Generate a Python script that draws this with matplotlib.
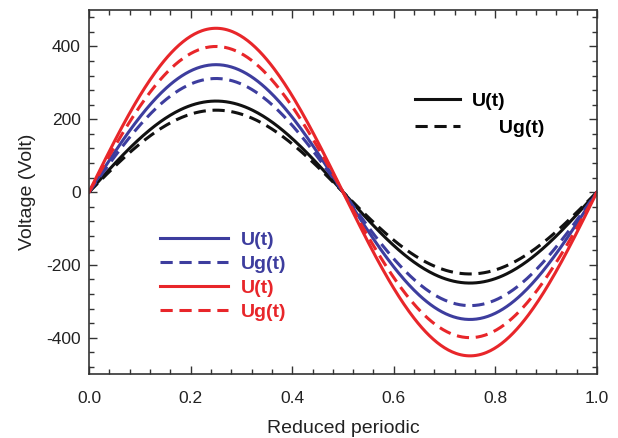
import numpy as np
import matplotlib.pyplot as plt
from matplotlib.lines import Line2D
from matplotlib.ticker import MultipleLocator

plt.rcParams['font.family'] = ['Liberation Sans', 'DejaVu Sans']
plt.rcParams['axes.unicode_minus'] = False

# amplitudes read from the peaks (Volt)
phase = np.linspace(0, 1, 401)
amp_black = [250, 225]   # U(t), Ug(t)
amp_blue = [350, 312]
amp_red = [450, 400]

black = '#111111'
blue = '#3d3d9e'
red = '#e8262a'

fig = plt.figure(figsize=(6.18, 4.38), dpi=100)
ax = fig.add_axes([0.144, 0.146, 0.822, 0.831])

dash = (0, (4, 2.2))
for amps, col in [(amp_black, black), (amp_blue, blue), (amp_red, red)]:
    ax.plot(phase, amps[0] * np.sin(2 * np.pi * phase), color=col, lw=2.2)
    ax.plot(phase, amps[1] * np.sin(2 * np.pi * phase), color=col, lw=2.2, linestyle=dash)

ax.set_xlim(0, 1)
ax.set_ylim(-500, 500)
ax.xaxis.set_major_locator(MultipleLocator(0.2))
ax.xaxis.set_minor_locator(MultipleLocator(0.04))
ax.yaxis.set_major_locator(MultipleLocator(200))
ax.yaxis.set_minor_locator(MultipleLocator(40))
ax.xaxis.set_major_formatter(plt.FormatStrFormatter('%.1f'))
ax.tick_params(which='both', direction='in', top=True, right=True, labelsize=12.5,
               colors='#333333', labelcolor='#222222')
ax.tick_params(axis='x', pad=12)
ax.tick_params(axis='y', pad=6)
ax.tick_params(which='major', length=6, width=1)
ax.tick_params(which='minor', length=3.5, width=1)
for s in ax.spines.values():
    s.set_linewidth(1.2)
    s.set_color('#333333')

ax.set_xlabel('Reduced periodic', fontsize=14, labelpad=10, color='#222222')
ax.set_ylabel('Voltage (Volt)', fontsize=14, labelpad=7, color='#222222')

h1 = [Line2D([], [], color=black, lw=2.2), Line2D([], [], color=black, lw=2.2, linestyle=dash)]
leg1 = ax.legend(h1, ['U(t)', '     Ug(t)'], loc='upper left', bbox_to_anchor=(0.642, 0.774),
                 frameon=False, handlelength=2.3, handletextpad=0.6, labelspacing=0.5,
                 borderpad=0, borderaxespad=0, prop={'weight': 'bold', 'size': 14})
ax.add_artist(leg1)

h2 = [Line2D([], [], color=blue, lw=2.2), Line2D([], [], color=blue, lw=2.2, linestyle=dash),
      Line2D([], [], color=red, lw=2.2), Line2D([], [], color=red, lw=2.2, linestyle=dash)]
leg2 = ax.legend(h2, ['U(t)', 'Ug(t)', 'U(t)', 'Ug(t)'], loc='upper left', bbox_to_anchor=(0.14, 0.393),
                 frameon=False, handlelength=3.5, handletextpad=0.67, labelspacing=0.33,
                 borderpad=0, borderaxespad=0, prop={'weight': 'bold', 'size': 14})
for t, c in zip(leg2.get_texts(), [blue, blue, red, red]):
    t.set_color(c)

fig.savefig('out.png', dpi=100)
